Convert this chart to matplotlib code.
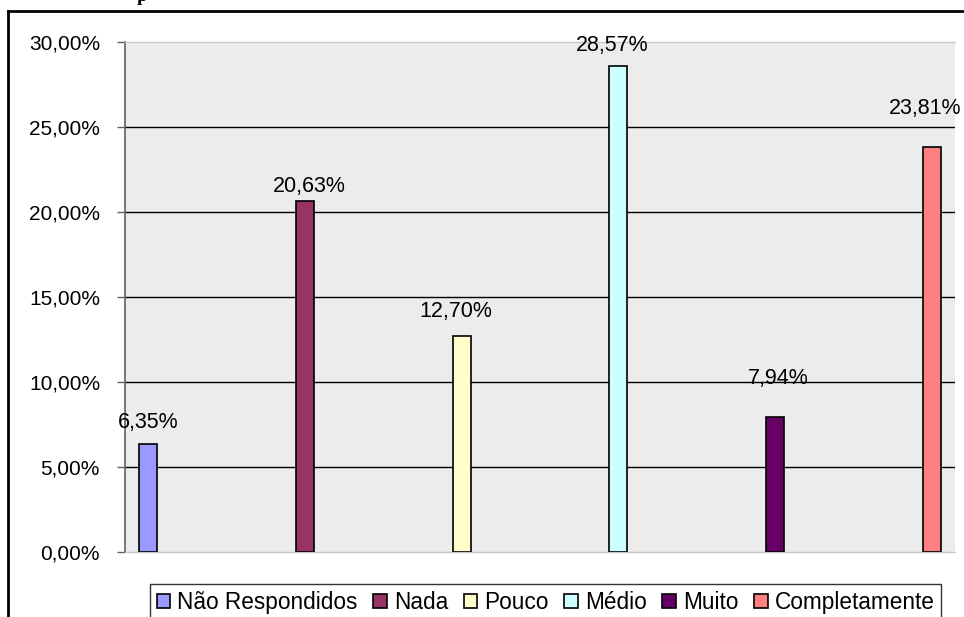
import numpy as np
import matplotlib.pyplot as plt
from matplotlib.lines import Line2D
from matplotlib.ticker import FuncFormatter

plt.rcParams['font.family'] = ['Liberation Sans', 'DejaVu Sans']

categorias = ['Não Respondidos', 'Nada', 'Pouco', 'Médio', 'Muito', 'Completamente']
valores = [6.35, 20.63, 12.70, 28.57, 7.94, 23.81]
cores = ['#9999FF', '#993366', '#FFFFCC', '#CCFFFF', '#660066', '#FF8080']
rotulos = ['6,35%', '20,63%', '12,70%', '28,57%', '7,94%', '23,81%']

# label offsets in pixels (dx, dy above bar top) - matches the original's uneven placement
off_x = [0, 5, -6, -6, 3, -7]
off_y = [22, 15, 25, 21, 39, 39]

fig = plt.figure(figsize=(9.64, 6.17), dpi=100)
ax = fig.add_axes([125/964, 1-552/617, (955-125)/964, (552-42)/617])
ax.set_facecolor('#ECECEC')

x = np.arange(len(valores))
for i in range(len(valores)):
    ax.bar(x[i], valores[i], width=0.115, color=cores[i], edgecolor='black',
           linewidth=1.2, label=categorias[i], zorder=3)
    ax.annotate(rotulos[i], (x[i], valores[i]), xytext=(off_x[i]*0.72, off_y[i]*0.72),
                textcoords='offset points', ha='center', va='center', fontsize=15.5,
                zorder=4)

ax.set_xlim(-0.146, len(valores) - 1 + 0.146)
ax.set_ylim(0, 30)
ax.set_yticks(np.arange(0, 31, 5))
ax.yaxis.set_major_formatter(FuncFormatter(lambda v, p: f'{v:.2f}%'.replace('.', ',')))
ax.set_xticks([])
ax.tick_params(axis='y', direction='out', length=6, width=1, color='#606060',
               labelsize=15, pad=12)
for yv in range(5, 30, 5):
    ax.axhline(yv, color='black', linewidth=1, zorder=1)

ax.spines['left'].set_color('#606060')
ax.spines['left'].set_linewidth(1.2)
for s in ['top', 'bottom', 'right']:
    ax.spines[s].set_color('#C8C8C8')
    ax.spines[s].set_linewidth(1)
ax.spines['right'].set_visible(False)

leg = fig.legend(loc='upper left', bbox_to_anchor=(150/964, 1-584/617), ncol=6,
                 fontsize=16.3, frameon=True, fancybox=False, edgecolor='black',
                 handlelength=0.6, handleheight=0.6, handletextpad=0.3,
                 columnspacing=0.7, borderpad=0.3, borderaxespad=0)
leg.get_frame().set_linewidth(1)

# outer chart frame (left and top edge only visible)
fig.add_artist(Line2D([8/964, 8/964], [0, 1-11/617], transform=fig.transFigure,
                      color='black', linewidth=2))
fig.add_artist(Line2D([8/964, 1], [1-11/617, 1-11/617], transform=fig.transFigure,
                      color='black', linewidth=2))

# cut off title above the chart
fig.text(142/964, 1.0 - 1/617, 'p', ha='center', va='baseline',
         fontfamily='Liberation Serif', fontweight='bold', fontsize=14)

fig.savefig('out.png', dpi=100)
